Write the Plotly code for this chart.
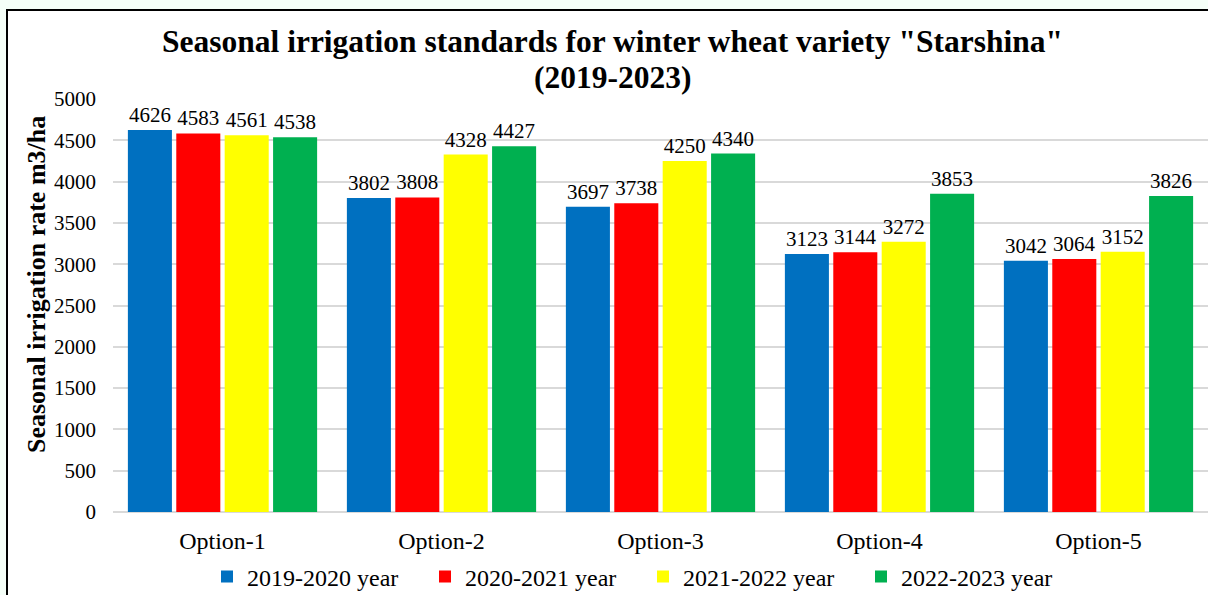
import plotly.graph_objects as go

categories = ["Option-1", "Option-2", "Option-3", "Option-4", "Option-5"]
series_names = ["2019-2020 year", "2020-2021 year", "2021-2022 year", "2022-2023 year"]
v2019 = [4626, 3802, 3697, 3123, 3042]
v2020 = [4583, 3808, 3738, 3144, 3064]
v2021 = [4561, 4328, 4250, 3272, 3152]
v2022 = [4538, 4427, 4340, 3853, 3826]
colors = ["#0070C0", "#FF0000", "#FFFF00", "#00B050"]
y_ticks = list(range(0, 5001, 500))
title_line1 = "Seasonal irrigation standards for winter wheat variety \"Starshina\""
title_line2 = "(2019-2023)"
y_title = "Seasonal irrigation rate m3/ha"

W, H = 1208, 595
L, R, T, B = 113, 0, 99, 83
pw, ph = W - L - R, H - T - B

font_family = "Liberation Serif, Times New Roman, serif"

fig = go.Figure()
for name, vals, col in zip(series_names, [v2019, v2020, v2021, v2022], colors):
    fig.add_trace(go.Bar(
        x=categories, y=vals, name=name,
        marker=dict(color=col, line=dict(width=0)),
        text=[str(v) for v in vals], textposition="outside",
        textfont=dict(family=font_family, size=21, color="black"),
        cliponaxis=False,
    ))

def px_x(p):
    return (p - L) / pw

def px_y(p):
    return (H - B - p) / ph

fig.update_layout(
    width=W, height=H,
    margin=dict(l=L, r=R, t=T, b=B, pad=0, autoexpand=False),
    paper_bgcolor="#F5FFF8",
    plot_bgcolor="rgba(0,0,0,0)",
    barmode="group",
    bargap=0.116,
    bargroupgap=0.09,
    font=dict(family=font_family, color="black"),
    showlegend=True,
    legend=dict(
        orientation="h", x=px_x(643), xanchor="center",
        yref="container", y=1 - 577 / H, yanchor="middle",
        font=dict(family=font_family, size=24, color="black"),
        bgcolor="rgba(0,0,0,0)", itemwidth=30, traceorder="normal",
        entrywidth=173, entrywidthmode="pixels",
    ),
    xaxis=dict(
        showgrid=False, showline=False, ticks="",
        tickfont=dict(family=font_family, size=24, color="black"),
        ticklabelstandoff=12,
    ),
    yaxis=dict(
        range=[0, 5000], tickvals=y_ticks,
        showgrid=True, gridcolor="#D9D9D9", gridwidth=1.5,
        zeroline=True, zerolinecolor="#D9D9D9", zerolinewidth=1.5,
        showline=False, ticks="",
        tickfont=dict(family=font_family, size=21, color="black"),
        ticklabelstandoff=16,
    ),
    shapes=[
        dict(type="rect", xref="paper", yref="paper", layer="below",
             x0=px_x(7), x1=px_x(1230), y0=px_y(620), y1=px_y(10),
             line=dict(color="black", width=2), fillcolor="white"),
    ],
    annotations=[
        dict(text="<b>" + y_title + "</b>", textangle=-90,
             xref="paper", yref="paper", x=px_x(36), y=px_y(285),
             xanchor="center", yanchor="middle", showarrow=False,
             font=dict(family=font_family, size=26, color="black")),
        dict(text="<b>" + title_line1 + "</b>",
             xref="paper", yref="paper", x=px_x(612), y=px_y(41),
             xanchor="center", yanchor="middle", showarrow=False,
             font=dict(family=font_family, size=31.5, color="black")),
        dict(text="<b>" + title_line2 + "</b>",
             xref="paper", yref="paper", x=px_x(612), y=px_y(77),
             xanchor="center", yanchor="middle", showarrow=False,
             font=dict(family=font_family, size=31.5, color="black")),
    ],
)

fig.write_html("out.html", config={"displayModeBar": False},
               post_script="document.body.style.margin='0';")
